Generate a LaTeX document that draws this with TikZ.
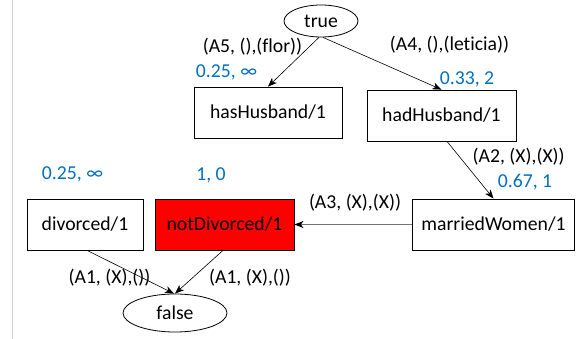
\documentclass[tikz,border=0pt]{standalone}
\usepackage{fontspec}
\setmainfont{Carlito}[Ligatures=NoCommon]
\usetikzlibrary{arrows.meta,shapes.geometric}
\definecolor{nblue}{HTML}{0070C0}
\definecolor{nred}{HTML}{FF0000}
\begin{document}
\begin{tikzpicture}[x=1pt,y=-1pt, font=\fontsize{19.7}{23}\selectfont,
  box/.style={rectangle, draw=black, line width=0.8pt, minimum height=51pt, inner sep=0pt},
  oval/.style={ellipse, draw=black, line width=0.8pt, inner sep=0pt},
  arr/.style={-{Stealth[length=9pt,width=7pt,inset=2.5pt]}, line width=0.6pt},
  lab/.style={inner sep=0pt},
  val/.style={inner sep=0pt, text=nblue}]
\useasboundingbox (0,0) rectangle (576,339);
\draw[black!18, line width=0.8pt] (12.3,0) -- (12.3,339);

\node[oval, minimum width=74pt, minimum height=32pt] (true) at (321,21) {true};
\node[box, minimum width=148pt] (hasH) at (268,112.5) {hasHusband/1};
\node[box, minimum width=149pt] (hadH) at (441.5,115.5) {hadHusband/1};
\node[box, minimum width=116pt] (div) at (85,224.5) {divorced/1};
\node[box, fill=nred, minimum width=139pt] (notdiv) at (224.5,224.5) {notDivorced/1};
\node[box, minimum width=162pt] (mw) at (493.5,224.5) {marriedWomen/1};
\node[oval, minimum width=104pt, minimum height=38pt] (false) at (175,313) {false};

\draw[arr] ([xshift=-2pt]true.south) -- (hasH.north);
\draw[arr] ([xshift=2pt]true.south) -- (hadH.north);
\draw[arr] ([xshift=5.5pt]hadH.south) -- (mw.north);
\draw[-{Stealth[length=9pt,width=7pt,inset=2.5pt,color=black]}, draw=black!55, line width=1pt] (mw.west) -- (notdiv.east);
\draw[arr] ([xshift=2pt]div.south) -- ([xshift=-1pt]false.north);
\draw[arr] ([xshift=-1.5pt]notdiv.south) -- (false.north);

\node[lab] (l5) at (252.5,47) {(A5, (),(flor))};
\node[val] (v1) at (226.5,72) {0.25, ∞};
\node[lab] (l4) at (449.5,45) {(A4, (),(leticia))};
\node[val] (v2) at (467,79) {0.33, 2};
\node[lab] (l2) at (518.7,156.7) {(A2, (X),(X))};
\node[val] (v3) at (525,181.7) {0.67, 1};
\node[val] (v4) at (72.5,174) {0.25, ∞};
\node[val] (v5) at (211,175) {1, 0};
\node[lab] (l3) at (355,203) {(A3, (X),(X))};
\node[lab] (l1a) at (109.5,278) {(A1, (X),())};
\node[lab] (l1b) at (250,278) {(A1, (X),())};
\end{tikzpicture}
\end{document}
